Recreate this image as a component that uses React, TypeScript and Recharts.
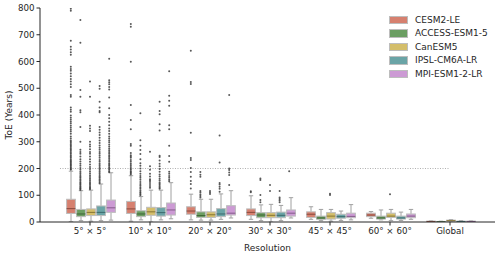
import React from 'react';
import { ComposedChart, XAxis, YAxis, Bar, Scatter, ReferenceLine, Legend } from 'recharts';

const resolutions = ['5° × 5°', '10° × 10°', '20° × 20°', '30° × 30°', '45° × 45°', '60° × 60°', 'Global'];
const models = ['CESM2-LE', 'ACCESS-ESM1-5', 'CanESM5', 'IPSL-CM6A-LR', 'MPI-ESM1-2-LR'];
const modelColors = ['#d6806f', '#6b9e62', '#d4be6a', '#6aa4a6', '#cc9ad4'];
const medianColors = ['#8a4a3e', '#3d6436', '#857433', '#3b6a6c', '#845a8a'];
const yTicks = [0, 100, 200, 300, 400, 500, 600, 700, 800];
const threshold = 200;

// [low whisker, q1, median, q3, high whisker] per resolution
const cesmBoxes = [
  [1, 32, 50, 85, 190],
  [3, 32, 49, 77, 173],
  [8, 29, 41, 57, 104],
  [10, 24, 36, 49, 98],
  [10, 17, 29, 38, 57],
  [14, 20, 26, 33, 39],
  [0, 1, 2, 3, 4],
];
const accessBoxes = [
  [5, 20, 30, 47, 117],
  [8, 20, 30, 42, 95],
  [7, 17, 24, 38, 85],
  [5, 16, 26, 35, 64],
  [5, 10, 15, 22, 47],
  [8, 11, 15, 22, 45],
  [0, 0.5, 1, 2, 3],
];
const canBoxes = [
  [3, 24, 36, 49, 119],
  [0, 25, 38, 55, 119],
  [7, 17, 27, 38, 85],
  [0, 16, 25, 35, 66],
  [3, 11, 22, 35, 47],
  [5, 17, 22, 33, 47],
  [1, 3, 5, 7, 9],
];
const ipslBoxes = [
  [5, 24, 36, 60, 142],
  [8, 22, 35, 54, 119],
  [10, 20, 30, 50, 105],
  [5, 16, 25, 37, 62],
  [6, 14, 20, 29, 41],
  [6, 11, 15, 22, 37],
  [0, 1, 2, 3, 5],
];
const mpiBoxes = [
  [7, 36, 53, 82, 184],
  [12, 26, 45, 71, 147],
  [15, 26, 33, 61, 117],
  [15, 22, 33, 45, 91],
  [8, 16, 21, 33, 65],
  [10, 16, 22, 30, 47],
  [0, 1, 2, 3, 4],
];

const cesmOutliers = [
  [195, 198, 202, 206, 210, 214, 218, 222, 226, 230, 235, 240, 245, 250, 255, 260, 265, 270, 275, 280, 285, 290, 295, 300,
    305, 312, 320, 330, 338, 345, 352, 360, 368, 375, 382, 390, 398, 412, 420, 428, 468, 475, 505, 515, 525, 535, 545, 555,
    565, 572, 580, 625, 635, 645, 655, 678, 790, 797],
  [178, 182, 186, 190, 195, 200, 206, 212, 218, 225, 232, 240, 245, 250, 258, 285, 292, 347, 381, 437, 599, 730, 740],
  [125, 142, 153, 169, 187, 202, 232, 239, 334, 516, 523, 640],
  [111, 115],
  [],
  [],
  [],
];
const accessOutliers = [
  [120, 123, 126, 130, 134, 138, 142, 146, 150, 155, 160, 165, 170, 176, 182, 188, 195, 202, 210, 218, 226, 235, 245, 255,
    262, 270, 300, 355, 410, 418, 468, 493, 670, 755],
  [100, 104, 108, 112, 118, 124, 130, 136, 142, 150, 158, 165, 172, 180, 190, 200, 210, 220, 235, 254, 269, 285, 306, 407],
  [92, 97, 103, 110, 116, 169, 177, 187],
  [74, 82, 101, 157, 163],
  [],
  [],
  [],
];
const canOutliers = [
  [122, 126, 130, 135, 140, 145, 150, 156, 162, 168, 175, 182, 190, 198, 206, 215, 225, 235, 245, 255, 262, 272, 282, 290,
    300, 340, 350, 360, 468, 525],
  [128, 135, 142, 150, 155, 160, 170, 180, 195, 208, 263],
  [105, 110, 116],
  [116, 138],
  [101, 106],
  [104],
  [],
];
const ipslOutliers = [
  [145, 150, 155, 160, 165, 170, 176, 182, 188, 194, 200, 206, 212, 218, 225, 232, 240, 248, 255, 262, 270, 278, 286, 295,
    305, 315, 325, 335, 345, 355, 410, 415, 428, 450, 498, 508],
  [124, 128, 133, 138, 143, 148, 155, 162, 170, 178, 188, 198, 208, 218, 230, 243, 248, 342, 365, 403, 415, 450],
  [113, 124, 132, 140, 146, 222, 323],
  [74, 80, 86, 92, 116],
  [],
  [],
  [],
];
const mpiOutliers = [
  [186, 190, 195, 200, 205, 210, 215, 220, 226, 232, 238, 244, 250, 256, 262, 268, 275, 282, 290, 298, 305, 312, 320, 330,
    340, 350, 362, 375, 388, 400, 425, 465, 495, 505, 515, 522, 530, 610],
  [152, 158, 165, 172, 180, 188, 225, 247, 285, 347, 362, 435, 453, 472, 564],
  [138, 176, 185, 194, 200, 475],
  [190],
  [],
  [],
  [],
];

const allBoxes = [cesmBoxes, accessBoxes, canBoxes, ipslBoxes, mpiBoxes];
const allOutliers = [cesmOutliers, accessOutliers, canOutliers, ipslOutliers, mpiOutliers];

const rows = resolutions.map((res, i) => {
  const row: any = { res, stats: allBoxes.map((b) => b[i]) };
  allBoxes.forEach((b, m) => {
    row['range' + m] = [b[i][0], b[i][4]];
  });
  return row;
});

// dodge offset of each model inside a category (in category units)
const dodge = (m: number) => (m - 2) * 0.16;

const outlierPoints = allOutliers.map((perRes, m) =>
  perRes.flatMap((vals, i) => vals.map((v) => ({ x: i + dodge(m), y: v })))
);

const BoxShape = (props: any) => {
  const { x, y, width, height, payload, idx } = props;
  if (!payload || !payload.stats) return null;
  const [lo, q1, med, q3, hi] = payload.stats[idx];
  const top = Math.min(y, y + height);
  const bottom = Math.max(y, y + height);
  const k = (bottom - top) / (hi - lo);
  const py = (v: number) => bottom - (v - lo) * k;
  const cx = x + width / 2;
  const bw = width - 1.2;
  const bx = x + 0.6;
  const capHalf = bw / 4;
  const wc = '#a0a0a0';
  return (
    <g>
      <line x1={cx} x2={cx} y1={py(hi)} y2={py(q3)} stroke={wc} strokeWidth={1} />
      <line x1={cx} x2={cx} y1={py(q1)} y2={py(lo)} stroke={wc} strokeWidth={1} />
      <line x1={cx - capHalf} x2={cx + capHalf} y1={py(hi)} y2={py(hi)} stroke={wc} strokeWidth={1} />
      <line x1={cx - capHalf} x2={cx + capHalf} y1={py(lo)} y2={py(lo)} stroke={wc} strokeWidth={1} />
      <rect x={bx} y={py(q3)} width={bw} height={Math.max(py(q1) - py(q3), 0.5)} fill={modelColors[idx]} stroke="#bdbdbd" strokeWidth={1} />
      <line x1={bx} x2={bx + bw} y1={py(med)} y2={py(med)} stroke={medianColors[idx]} strokeWidth={1} />
    </g>
  );
};

const Flier = (props: any) => {
  const { cx, cy } = props;
  if (cx == null || cy == null) return null;
  return <circle cx={cx} cy={cy} r={1} fill="#3c3c3c" opacity={0.85} />;
};

const LegendBox = () => (
  <div style={{ fontFamily: 'DejaVu Sans', fontSize: 9, color: '#262626' }}>
    {models.map((m, i) => (
      <div key={m} style={{ display: 'flex', alignItems: 'center', height: 13.5 }}>
        <div style={{ width: 17, height: 6.5, background: modelColors[i], border: '0.5px solid #bdbdbd', marginRight: 7 }} />
        <span>{m}</span>
      </div>
    ))}
  </div>
);

const tickStyle = { fontSize: 8.7, fill: '#262626', fontFamily: 'DejaVu Sans' };

export default function App() {
  return (
    <div style={{ position: 'absolute', left: 0, top: 0, width: 500, height: 254, background: '#fff' }}>
      <ComposedChart
        width={500}
        height={254}
        data={rows}
        margin={{ top: 8, right: 5, bottom: 0, left: 0 }}
        barGap={0}
        barCategoryGap="10%"
      >
        <XAxis
          dataKey="res"
          padding={{ left: 20, right: 15 }}
          height={32}
          tick={tickStyle}
          tickSize={3.5}
          tickMargin={2}
          stroke="#262626"
          interval={0}
          label={{ value: 'Resolution', position: 'insideBottom', offset: 3, style: { fontSize: 9, fill: '#262626', fontFamily: 'DejaVu Sans' } }}
        />
        <XAxis xAxisId="num" type="number" dataKey="x" domain={[-0.8333, 6.75]} hide allowDataOverflow />
        <YAxis
          domain={[0, 800]}
          ticks={yTicks}
          width={40}
          tick={tickStyle}
          tickSize={3.5}
          tickMargin={2}
          stroke="#262626"
          allowDataOverflow
          label={{ value: 'ToE (Years)', angle: -90, position: 'insideLeft', offset: 9, style: { textAnchor: 'middle', fontSize: 9, fill: '#262626', fontFamily: 'DejaVu Sans' } }}
        />
        <Legend
          layout="vertical"
          align="center"
          verticalAlign="middle"
          wrapperStyle={{ top: 13, left: 389, width: 110 }}
          content={() => <LegendBox />}
        />
        <ReferenceLine
          xAxisId="num"
          segment={[{ x: -0.5, y: threshold }, { x: 6, y: threshold }]}
          stroke="#9a9a9a"
          strokeWidth={0.8}
          strokeDasharray="1 1.5"
        />
        {models.map((m, idx) => (
          <Bar
            key={m}
            name={m}
            dataKey={'range' + idx}
            fill={modelColors[idx]}
            isAnimationActive={false}
            shape={(p: any) => <BoxShape {...p} idx={idx} />}
          />
        ))}
        {models.map((m, idx) => (
          <Scatter
            key={'f' + m}
            xAxisId="num"
            data={outlierPoints[idx]}
            dataKey="y"
            isAnimationActive={false}
            shape={(p: any) => <Flier {...p} />}
            legendType="none"
          />
        ))}
      </ComposedChart>
    </div>
  );
}
